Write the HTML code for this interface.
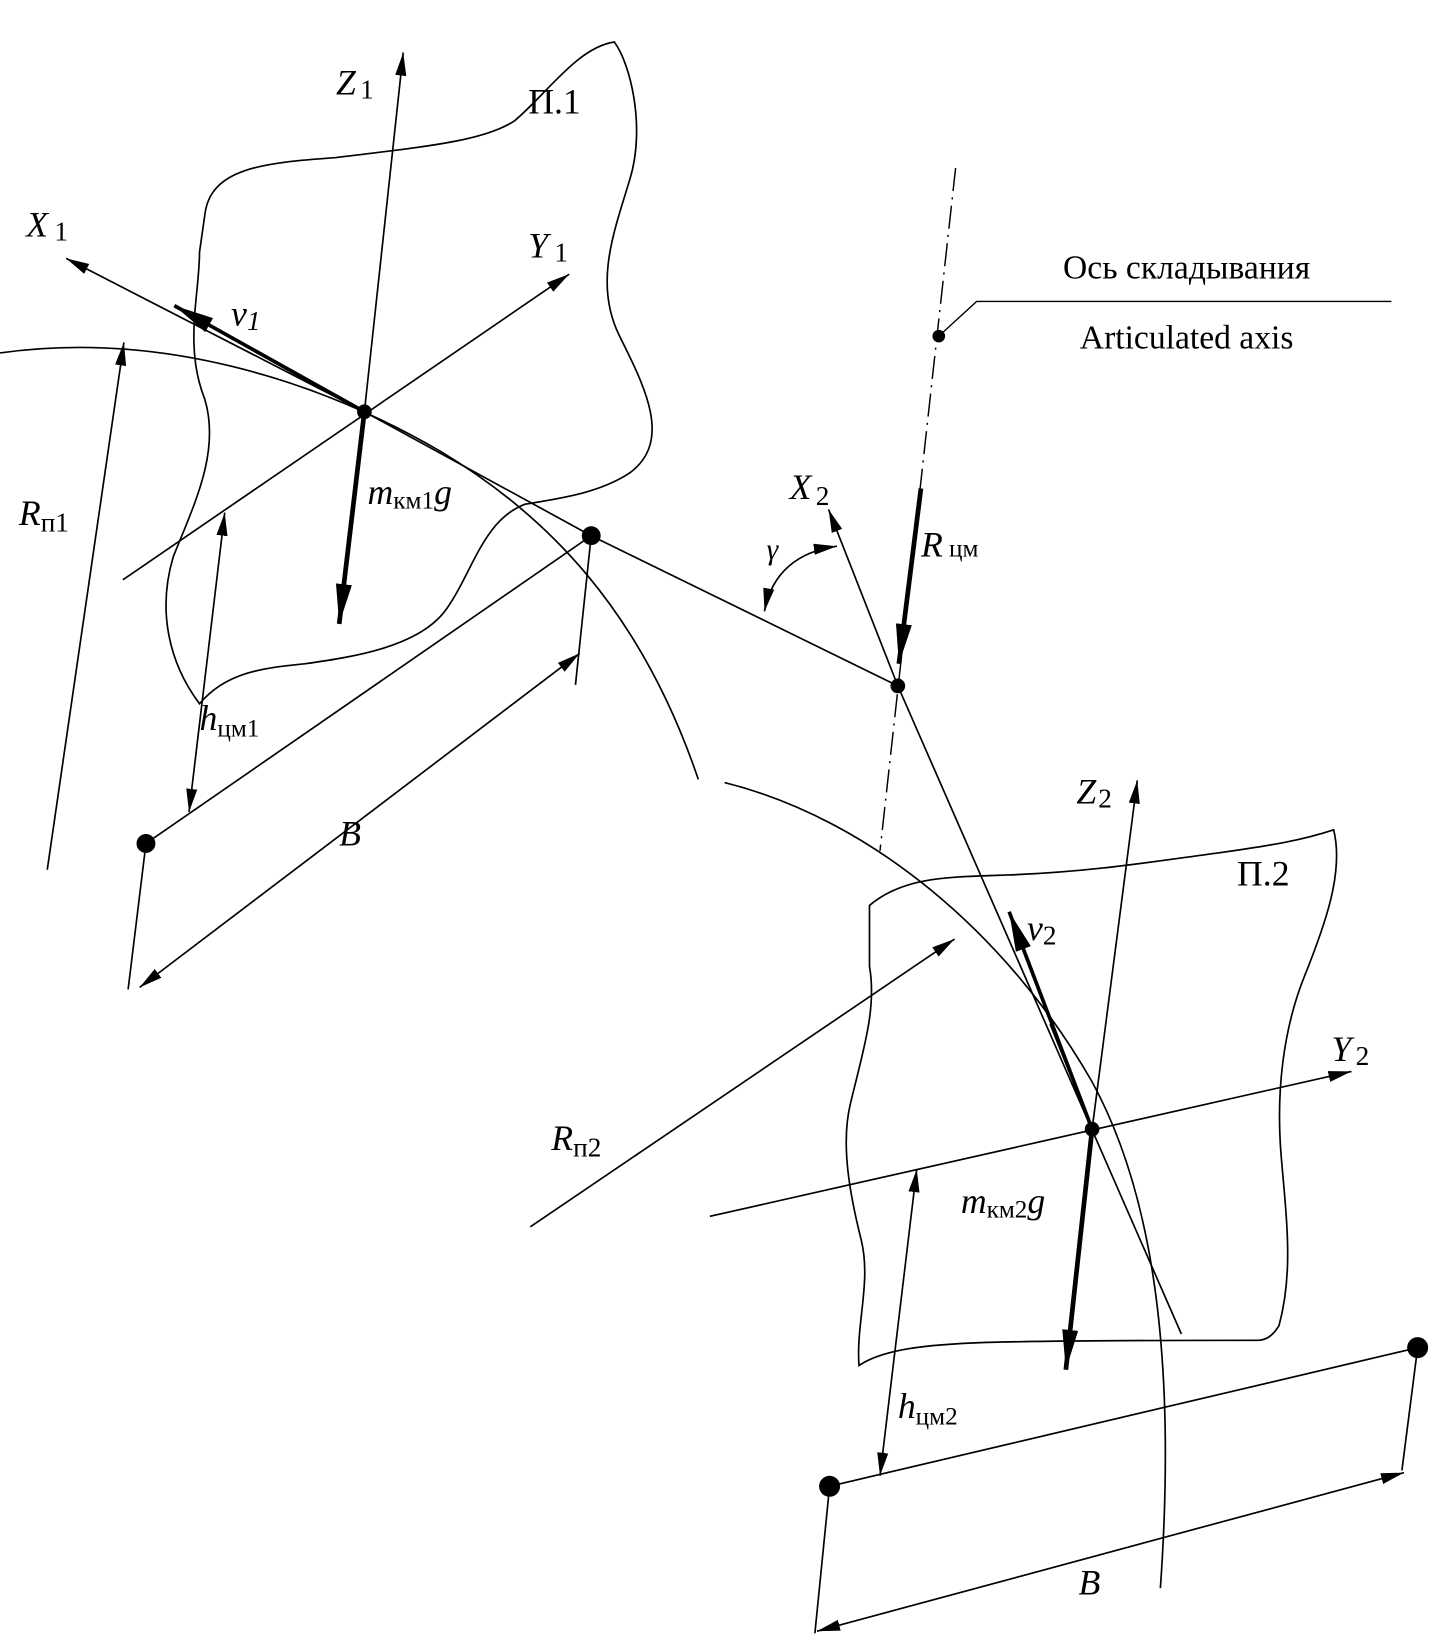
<!DOCTYPE html>
<html><head><meta charset="utf-8"><style>
html,body{margin:0;padding:0;background:#fff}
svg{display:block}
text{font-family:"Liberation Serif",serif;fill:#000}
.i{font-style:italic}
</style></head><body>
<svg width="1446" height="1647" viewBox="0 0 1377 1568" preserveAspectRatio="none" xmlns="http://www.w3.org/2000/svg">
<defs>
<marker id="a" viewBox="0 0 10 10" refX="10" refY="5" markerWidth="22" markerHeight="22" markerUnits="userSpaceOnUse" orient="auto-start-reverse"><path d="M0,2.6 L10,5 L0,7.4z"/></marker>
<marker id="b" viewBox="0 0 10 10" refX="10" refY="5" markerWidth="38" markerHeight="38" markerUnits="userSpaceOnUse" orient="auto"><path d="M0,3 L10,5 L0,7z"/></marker>
</defs>
<g fill="none" stroke="#000" stroke-width="1.6">
<path d="M195,205 C200,160 250,155 320,150 C400,140 460,135 490,115 C520,90 550,45 585,40 C600,60 615,120 600,170 C585,220 565,270 590,320 C615,370 640,420 600,450 C570,470 530,475 500,480 C460,495 450,545 425,580 C400,615 340,625 290,632 C250,636 215,640 190,670 C160,630 150,580 165,530 C185,480 210,430 195,380 C175,330 190,280 190,240 Z"/>
<path d="M828,862 C860,835 900,835 960,833 C1040,830 1100,820 1160,812 C1210,805 1240,800 1270,790 C1280,830 1262,880 1242,930 C1222,980 1215,1040 1220,1100 C1225,1160 1232,1210 1218,1262 C1212,1272 1205,1276 1198,1276 C1120,1276 1020,1276 940,1278 C880,1280 840,1285 818,1300 C815,1260 830,1220 820,1180 C810,1140 800,1090 810,1050 C822,1000 835,960 828,920 Z"/>
<path d="M0,336 C150,315 300,360 420,430 C520,490 610,580 665,742"/>
<path d="M690,745 C830,780 960,890 1040,1030 C1100,1140 1120,1300 1105,1512"/>
<line x1="347" y1="392" x2="384" y2="50" marker-end="url(#a)"/>
<line x1="347" y1="392" x2="63" y2="246" marker-end="url(#a)"/>
<line x1="117" y1="552" x2="542" y2="261" marker-end="url(#a)"/>
<polyline points="347,392 563,510 855,653"/>
<line x1="45" y1="828" x2="118" y2="326" marker-end="url(#a)"/>
<line x1="180" y1="773" x2="214" y2="488" marker-start="url(#a)" marker-end="url(#a)"/>
<line x1="139" y1="803" x2="563" y2="510"/>
<line x1="139" y1="803" x2="122" y2="942"/>
<line x1="563" y1="510" x2="548" y2="652"/>
<line x1="133" y1="940" x2="552" y2="622" marker-start="url(#a)" marker-end="url(#a)"/>
<line x1="910" y1="160" x2="838" y2="810" stroke-dasharray="22,6,2,6" stroke-width="1.4"/>
<polyline points="894,320 930,287 1325,287" stroke-width="1.3"/>
<line x1="855" y1="653" x2="1125" y2="1270"/>
<line x1="855" y1="653" x2="789" y2="485" marker-end="url(#a)"/>
<path d="M728,582 C735,545 760,525 797,520" marker-start="url(#a)" marker-end="url(#a)"/>
<line x1="1040" y1="1075" x2="1083" y2="743" marker-end="url(#a)"/>
<line x1="676" y1="1158" x2="1287" y2="1020" marker-end="url(#a)"/>
<line x1="505" y1="1168" x2="909" y2="894" marker-end="url(#a)"/>
<line x1="838" y1="1405" x2="873" y2="1113" marker-start="url(#a)" marker-end="url(#a)"/>
<line x1="790" y1="1415" x2="1350" y2="1283"/>
<line x1="790" y1="1415" x2="776" y2="1555"/>
<line x1="1350" y1="1283" x2="1335" y2="1400"/>
<line x1="778" y1="1553" x2="1337" y2="1402" marker-start="url(#a)" marker-end="url(#a)"/>
<line x1="1040" y1="1075" x2="1000" y2="975"/>
</g>
<g stroke="#000" fill="none">
<line x1="347" y1="392" x2="323" y2="594" stroke-width="4.5" marker-end="url(#b)"/>
<line x1="347" y1="392" x2="166" y2="291" stroke-width="3.5" marker-end="url(#b)"/>
<line x1="877" y1="465" x2="856" y2="632" stroke-width="4.5" marker-end="url(#b)"/>
<line x1="1040" y1="1075" x2="961" y2="868" stroke-width="3.5" marker-end="url(#b)"/>
<line x1="1040" y1="1075" x2="1015" y2="1304" stroke-width="4.5" marker-end="url(#b)"/>
</g>
<g fill="#000">
<circle cx="347" cy="392" r="7"/><circle cx="563" cy="510" r="9"/><circle cx="855" cy="653" r="7"/>
<circle cx="139" cy="803" r="9"/><circle cx="894" cy="320" r="6"/><circle cx="1040" cy="1075" r="7"/>
<circle cx="790" cy="1415" r="10"/><circle cx="1350" cy="1283" r="10"/>
</g>
<g font-size="34">
<text x="320" y="90" class="i">Z<tspan font-size="26" dx="4" dy="4" font-style="normal">1</tspan></text>
<text x="503" y="108">П.1</text>
<text x="25" y="225" class="i">X<tspan font-size="26" dx="6" dy="4" font-style="normal">1</tspan></text>
<text x="503" y="245" class="i">Y<tspan font-size="26" dx="6" dy="4" font-style="normal">1</tspan></text>
<text x="220" y="310" class="i">v<tspan font-size="26" dy="4">1</tspan></text>
<text x="18" y="500" class="i">R<tspan font-size="26" dy="6" font-style="normal">п1</tspan></text>
<text x="350" y="480" class="i">m<tspan font-size="24" dy="4" font-style="normal">км1</tspan><tspan dy="-4">g</tspan></text>
<text x="190" y="695" class="i">h<tspan font-size="24" dy="6" font-style="normal">цм1</tspan></text>
<text x="323" y="805" class="i">B</text>
<text x="752" y="475" class="i">X<tspan font-size="26" dx="4" dy="6" font-style="normal">2</tspan></text>
<text x="730" y="532" class="i" font-size="28">γ</text>
<text x="877" y="530" class="i">R<tspan font-size="24" dx="6" font-style="normal">цм</tspan></text>
<text x="1025" y="765" class="i">Z<tspan font-size="26" dx="2" dy="4" font-style="normal">2</tspan></text>
<text x="1178" y="843">П.2</text>
<text x="978" y="895" class="i">v<tspan font-size="26" dy="4" font-style="normal">2</tspan></text>
<text x="1268" y="1010" class="i">Y<tspan font-size="26" dx="4" dy="4" font-style="normal">2</tspan></text>
<text x="525" y="1095" class="i">R<tspan font-size="26" dy="6" font-style="normal">п2</tspan></text>
<text x="915" y="1155" class="i">m<tspan font-size="24" dy="4" font-style="normal">км2</tspan><tspan dy="-4">g</tspan></text>
<text x="855" y="1350" class="i">h<tspan font-size="24" dy="6" font-style="normal">цм2</tspan></text>
<text x="1027" y="1518" class="i">B</text>
<text x="1130" y="265" text-anchor="middle" font-size="32">Ось складывания</text>
<text x="1130" y="332" text-anchor="middle" font-size="32">Articulated axis</text>
</g>
</svg>
</body></html>
